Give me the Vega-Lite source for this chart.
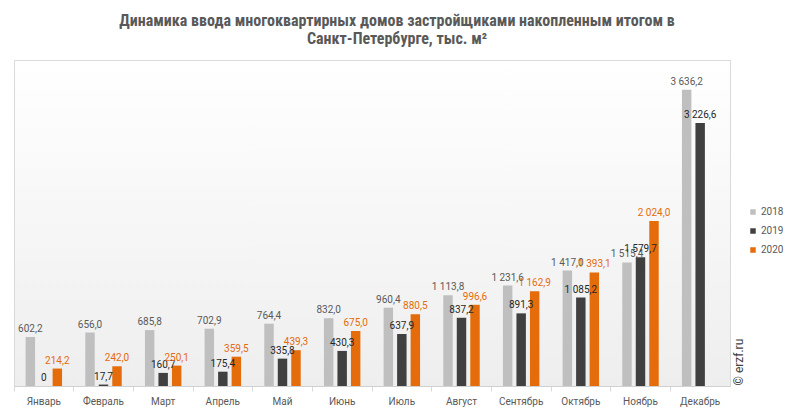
{
  "$schema": "https://vega.github.io/schema/vega-lite/v6.json",
  "width": 716,
  "height": 326,
  "autosize": {"type": "none"},
  "padding": {"left": 14, "top": 60, "right": 63, "bottom": 29},
  "background": "#ffffff",
  "title": {
    "text": ["Динамика ввода многоквартирных домов застройщиками накопленным итогом в", "Санкт-Петербурге, тыс. м²"],
    "anchor": "middle",
    "dx": 25,
    "offset": 13,
    "font": "Liberation Sans Narrow, Roboto Condensed, Roboto",
    "fontSize": 16,
    "fontWeight": "bold",
    "color": "#595959",
    "lineHeight": 18
  },
  "data": {
    "values": [
      {"month": "Январь", "year": "2018", "value": 602.2},
      {"month": "Январь", "year": "2019", "value": 0},
      {"month": "Январь", "year": "2020", "value": 214.2},
      {"month": "Февраль", "year": "2018", "value": 656.0},
      {"month": "Февраль", "year": "2019", "value": 17.7},
      {"month": "Февраль", "year": "2020", "value": 242.0},
      {"month": "Март", "year": "2018", "value": 685.8},
      {"month": "Март", "year": "2019", "value": 160.7},
      {"month": "Март", "year": "2020", "value": 250.1},
      {"month": "Апрель", "year": "2018", "value": 702.9},
      {"month": "Апрель", "year": "2019", "value": 175.4},
      {"month": "Апрель", "year": "2020", "value": 359.5},
      {"month": "Май", "year": "2018", "value": 764.4},
      {"month": "Май", "year": "2019", "value": 335.8},
      {"month": "Май", "year": "2020", "value": 439.3},
      {"month": "Июнь", "year": "2018", "value": 832.0},
      {"month": "Июнь", "year": "2019", "value": 430.3},
      {"month": "Июнь", "year": "2020", "value": 675.0},
      {"month": "Июль", "year": "2018", "value": 960.4},
      {"month": "Июль", "year": "2019", "value": 637.9},
      {"month": "Июль", "year": "2020", "value": 880.5},
      {"month": "Август", "year": "2018", "value": 1113.8},
      {"month": "Август", "year": "2019", "value": 837.2},
      {"month": "Август", "year": "2020", "value": 996.6},
      {"month": "Сентябрь", "year": "2018", "value": 1231.6},
      {"month": "Сентябрь", "year": "2019", "value": 891.3},
      {"month": "Сентябрь", "year": "2020", "value": 1162.9},
      {"month": "Октябрь", "year": "2018", "value": 1417.0},
      {"month": "Октябрь", "year": "2019", "value": 1085.2},
      {"month": "Октябрь", "year": "2020", "value": 1393.1},
      {"month": "Ноябрь", "year": "2018", "value": 1515.4},
      {"month": "Ноябрь", "year": "2019", "value": 1579.7},
      {"month": "Ноябрь", "year": "2020", "value": 2024.0},
      {"month": "Декабрь", "year": "2018", "value": 3636.2},
      {"month": "Декабрь", "year": "2019", "value": 3226.6}
    ]
  },
  "encoding": {
    "x": {
      "field": "month",
      "type": "nominal",
      "sort": ["Январь", "Февраль", "Март", "Апрель", "Май", "Июнь", "Июль", "Август", "Сентябрь", "Октябрь", "Ноябрь", "Декабрь"],
      "scale": {"paddingInner": 0, "paddingOuter": 0},
      "axis": {
        "title": null,
        "labelAngle": 0,
        "bandPosition": 0,
        "tickSize": 5,
        "tickColor": "#d9d9d9",
        "domainColor": "#d0d0d0",
        "labelColor": "#595959",
        "labelFontSize": 10,
        "labelFont": "Roboto",
        "labelPadding": 5,
        "grid": false
      }
    },
    "xOffset": {
      "field": "year",
      "type": "nominal",
      "scale": {"paddingInner": 0.3, "paddingOuter": 0.86}
    },
    "y": {
      "field": "value",
      "type": "quantitative",
      "scale": {"domain": [0, 4000]},
      "axis": {
        "orient": "right",
        "grid": false,
        "domain": false,
        "ticks": false,
        "labels": false,
        "title": "© erzf.ru",
        "titleAngle": 270,
        "titleX": 8,
        "titleY": 325,
        "titleAlign": "left",
        "titleBaseline": "middle",
        "titleFont": "Roboto",
        "titleFontSize": 12,
        "titleFontWeight": "normal",
        "titleColor": "#404040"
      }
    }
  },
  "layer": [
    {
      "mark": {"type": "bar"},
      "encoding": {
        "color": {
          "field": "year",
          "type": "nominal",
          "scale": {"domain": ["2018", "2019", "2020"], "range": ["#BFBFBF", "#404040", "#E46C0A"]},
          "legend": {
            "orient": "none",
            "legendX": 734,
            "legendY": 147,
            "title": null,
            "symbolType": "square",
            "symbolSize": 30,
            "symbolStrokeWidth": 0,
            "labelFontSize": 10,
            "labelFont": "Roboto",
            "labelColor": "#595959",
            "labelOffset": 3,
            "rowPadding": 9,
            "padding": 0
          }
        }
      }
    },
    {
      "mark": {"type": "text", "baseline": "middle", "dy": -8, "fontSize": 10, "font": "Roboto"},
      "encoding": {
        "text": {"condition": {"test": "datum.value === 0", "value": "0"}, "field": "value", "type": "quantitative", "format": ",.1f"},
        "color": {
          "condition": [
            {"test": "datum.year === '2018'", "value": "#595959"},
            {"test": "datum.year === '2020'", "value": "#E46C0A"}
          ],
          "value": "#262626"
        }
      }
    }
  ],
  "config": {
    "locale": {"number": {"decimal": ",", "thousands": " ", "grouping": [3], "currency": ["", ""]}},
    "view": {
      "stroke": "#d9d9d9",
      "fill": {"gradient": "linear", "x1": 0, "y1": 0, "x2": 0, "y2": 1, "stops": [{"offset": 0, "color": "#ffffff"}, {"offset": 1, "color": "#eeeeee"}]}
    }
  }
}
